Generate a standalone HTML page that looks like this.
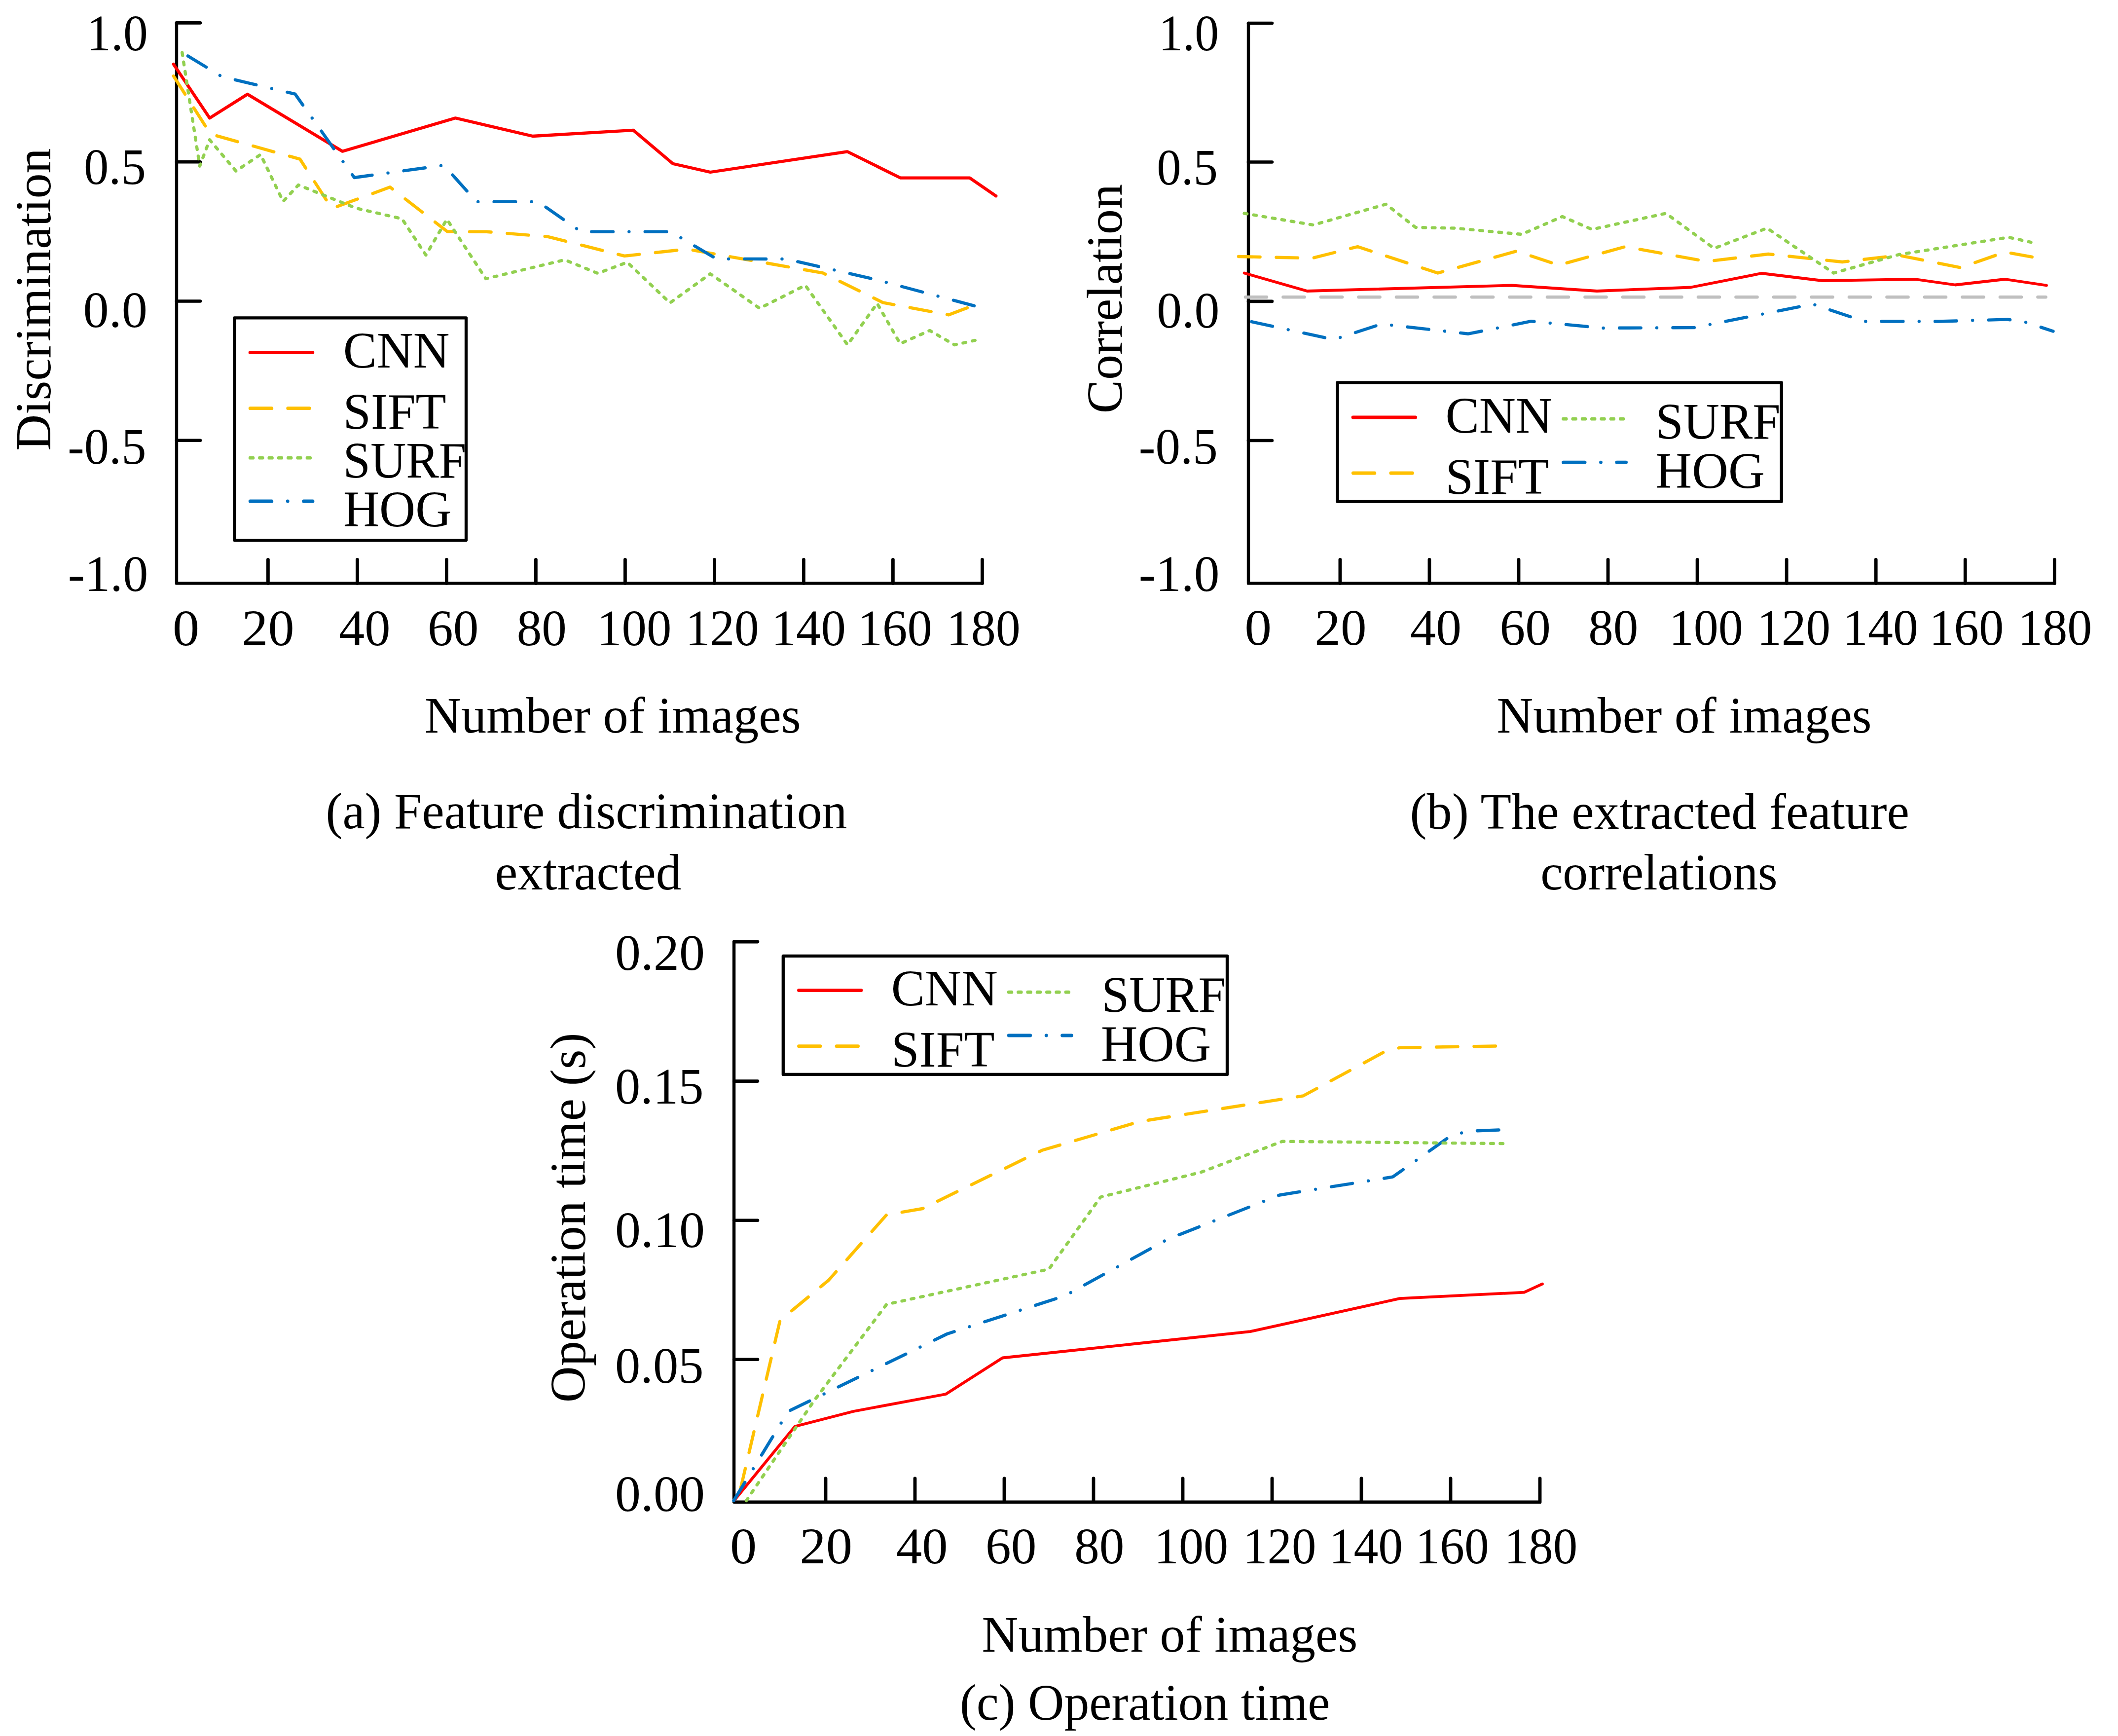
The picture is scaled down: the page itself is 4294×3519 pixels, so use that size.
<!DOCTYPE html>
<html><head><meta charset="utf-8"><title>Feature comparison</title>
<style>
html,body{margin:0;padding:0;background:#fff;}
svg{display:block;}
text{font-family:"Liberation Serif",serif;fill:#000;}
</style></head><body>
<svg width="4294" height="3519" viewBox="0 0 4294 3519">
<rect width="4294" height="3519" fill="#fff"/>
<polyline points="358,46.4 358,1182.4 1991.4,1182.4" fill="none" stroke="#000" stroke-width="6.4" stroke-linecap="round" stroke-linejoin="round"/>
<line x1="358.00" y1="46.40" x2="405.90" y2="46.40" stroke="#000" stroke-width="6.6" stroke-linecap="round"/>
<line x1="358.00" y1="328.30" x2="405.90" y2="328.30" stroke="#000" stroke-width="6.6" stroke-linecap="round"/>
<line x1="358.00" y1="610.50" x2="405.90" y2="610.50" stroke="#000" stroke-width="6.6" stroke-linecap="round"/>
<line x1="358.00" y1="892.80" x2="405.90" y2="892.80" stroke="#000" stroke-width="6.6" stroke-linecap="round"/>
<line x1="543.40" y1="1182.40" x2="543.40" y2="1134.50" stroke="#000" stroke-width="6.8" stroke-linecap="round"/>
<line x1="724.40" y1="1182.40" x2="724.40" y2="1134.50" stroke="#000" stroke-width="6.8" stroke-linecap="round"/>
<line x1="905.40" y1="1182.40" x2="905.40" y2="1134.50" stroke="#000" stroke-width="6.8" stroke-linecap="round"/>
<line x1="1086.40" y1="1182.40" x2="1086.40" y2="1134.50" stroke="#000" stroke-width="6.8" stroke-linecap="round"/>
<line x1="1267.40" y1="1182.40" x2="1267.40" y2="1134.50" stroke="#000" stroke-width="6.8" stroke-linecap="round"/>
<line x1="1448.40" y1="1182.40" x2="1448.40" y2="1134.50" stroke="#000" stroke-width="6.8" stroke-linecap="round"/>
<line x1="1629.40" y1="1182.40" x2="1629.40" y2="1134.50" stroke="#000" stroke-width="6.8" stroke-linecap="round"/>
<line x1="1810.40" y1="1182.40" x2="1810.40" y2="1134.50" stroke="#000" stroke-width="6.8" stroke-linecap="round"/>
<line x1="1991.40" y1="1182.40" x2="1991.40" y2="1134.50" stroke="#000" stroke-width="6.8" stroke-linecap="round"/>
<polyline points="351.7,130.0 425.0,239.3 501.7,191.0 694.3,306.7 923.3,239.3 1080.0,276.0 1284.0,264.0 1364.0,331.7 1440.0,349.0 1717.7,307.3 1825.7,360.7 1966.0,360.7 2019.3,397.3" fill="none" stroke="#FF0000" stroke-width="6.3" stroke-linecap="round" stroke-linejoin="round"/>
<polyline points="351.7,154.0 426.7,271.7 608.3,322.7 672.7,422.7 790.7,379.3 906.7,469.3 986.7,469.8 1110.0,479.6 1266.0,518.9 1393.0,505.0 1668.3,553.3 1790.0,613.3 1923.3,638.3 1966.7,621.7" fill="none" stroke="#FFC000" stroke-width="6.4" stroke-linecap="round" stroke-linejoin="round" stroke-dasharray="43.6 32.9"/>
<polyline points="369.3,106.7 405.0,336.7 425.0,283.3 478.3,346.7 528.3,313.3 574.0,408.3 605.0,375.0 722.0,422.0 815.0,443.5 863.4,517.0 906.0,444.5 985.0,565.0 1145.0,526.7 1211.7,554.0 1271.7,531.7 1358.3,614.0 1440.0,555.0 1540.0,625.0 1632.7,578.3 1718.3,699.0 1778.3,615.0 1825.0,696.7 1885.0,670.0 1935.0,699.0 1980.0,689.3" fill="none" stroke="#92D050" stroke-width="6.4" stroke-linecap="round" stroke-linejoin="round" stroke-dasharray="5.7 13.6"/>
<polyline points="381.0,113.4 450.0,155.5 598.3,190.7 718.3,360.0 900.0,335.0 966.0,408.9 1091.0,408.9 1177.9,469.6 1359.3,469.6 1452.6,524.8 1593.3,525.0 1771.7,565.7 1981.7,621.7" fill="none" stroke="#0070C0" stroke-width="6.4" stroke-linecap="round" stroke-linejoin="round" stroke-dasharray="43.6 32.4 0.01 32.4"/>
<rect x="475.4" y="644.4" width="469.6" height="450.7" fill="#fff" stroke="#000" stroke-width="6.3" stroke-linejoin="round"/>
<line x1="507.10" y1="714.70" x2="633.80" y2="714.70" stroke="#FF0000" stroke-width="6.8" stroke-linecap="round"/>
<polyline points="507.2,827.7 634.0,827.7" fill="none" stroke="#FFC000" stroke-width="6.8" stroke-linecap="round" stroke-linejoin="round" stroke-dasharray="43.6 32.9"/>
<polyline points="507.2,928.2 634.0,928.2" fill="none" stroke="#92D050" stroke-width="6.8" stroke-linecap="round" stroke-linejoin="round" stroke-dasharray="5.7 13.6"/>
<polyline points="507.2,1016.0 634.0,1016.0" fill="none" stroke="#0070C0" stroke-width="6.8" stroke-linecap="round" stroke-linejoin="round" stroke-dasharray="43.6 32.4 0.01 32.4"/>
<text transform="translate(695.81,745.20) scale(0.9775,1)" font-size="104.5">CNN</text>
<text transform="translate(695.48,869.30) scale(0.9734,1)" font-size="104.5">SIFT</text>
<text transform="translate(695.61,968.40) scale(0.9553,1)" font-size="104.5">SURF</text>
<text transform="translate(695.96,1066.80) scale(0.9697,1)" font-size="104.5">HOG</text>
<text transform="translate(175.23,102.00) scale(0.9535,1)" font-size="104.5">1.0</text>
<text transform="translate(169.92,372.50) scale(0.9647,1)" font-size="104.5">0.5</text>
<text transform="translate(168.53,663.00) scale(0.9985,1)" font-size="104.5">0.0</text>
<text transform="translate(137.28,939.50) scale(0.9620,1)" font-size="104.5">-0.5</text>
<text transform="translate(137.70,1197.50) scale(0.9836,1)" font-size="104.5">-1.0</text>
<text transform="translate(349.88,1307.50) scale(1.0382,1)" font-size="104.5">0</text>
<text transform="translate(490.33,1307.50) scale(1.0164,1)" font-size="104.5">20</text>
<text transform="translate(686.91,1307.50) scale(1.0006,1)" font-size="104.5">40</text>
<text transform="translate(867.05,1307.50) scale(0.9892,1)" font-size="104.5">60</text>
<text transform="translate(1047.65,1307.50) scale(0.9683,1)" font-size="104.5">80</text>
<text transform="translate(1210.13,1307.50) scale(0.9646,1)" font-size="104.5">100</text>
<text transform="translate(1389.76,1307.50) scale(0.9507,1)" font-size="104.5">120</text>
<text transform="translate(1563.63,1307.50) scale(0.9646,1)" font-size="104.5">140</text>
<text transform="translate(1738.63,1307.50) scale(0.9646,1)" font-size="104.5">160</text>
<text transform="translate(1918.69,1307.50) scale(0.9576,1)" font-size="104.5">180</text>
<text transform="translate(861.03,1485.00) scale(0.9807,1)" font-size="104.5">Number of images</text>
<text transform="translate(660.52,1679.00) scale(0.9740,1)" font-size="104.5">(a) Feature discrimination</text>
<text transform="translate(1003.48,1802.50) scale(0.9866,1)" font-size="104.5">extracted</text>
<text transform="translate(101.70,913.77) rotate(-90) scale(1.0028,1)" font-size="102">Discrimination</text>
<polyline points="2531,47 2531,1182.4 4165.3,1182.4" fill="none" stroke="#000" stroke-width="6.4" stroke-linecap="round" stroke-linejoin="round"/>
<line x1="2531.00" y1="47.00" x2="2578.90" y2="47.00" stroke="#000" stroke-width="6.6" stroke-linecap="round"/>
<line x1="2531.00" y1="328.50" x2="2578.90" y2="328.50" stroke="#000" stroke-width="6.6" stroke-linecap="round"/>
<line x1="2531.00" y1="610.90" x2="2578.90" y2="610.90" stroke="#000" stroke-width="6.6" stroke-linecap="round"/>
<line x1="2531.00" y1="893.00" x2="2578.90" y2="893.00" stroke="#000" stroke-width="6.6" stroke-linecap="round"/>
<line x1="2716.90" y1="1182.40" x2="2716.90" y2="1134.50" stroke="#000" stroke-width="6.8" stroke-linecap="round"/>
<line x1="2897.95" y1="1182.40" x2="2897.95" y2="1134.50" stroke="#000" stroke-width="6.8" stroke-linecap="round"/>
<line x1="3079.00" y1="1182.40" x2="3079.00" y2="1134.50" stroke="#000" stroke-width="6.8" stroke-linecap="round"/>
<line x1="3260.05" y1="1182.40" x2="3260.05" y2="1134.50" stroke="#000" stroke-width="6.8" stroke-linecap="round"/>
<line x1="3441.10" y1="1182.40" x2="3441.10" y2="1134.50" stroke="#000" stroke-width="6.8" stroke-linecap="round"/>
<line x1="3622.15" y1="1182.40" x2="3622.15" y2="1134.50" stroke="#000" stroke-width="6.8" stroke-linecap="round"/>
<line x1="3803.20" y1="1182.40" x2="3803.20" y2="1134.50" stroke="#000" stroke-width="6.8" stroke-linecap="round"/>
<line x1="3984.25" y1="1182.40" x2="3984.25" y2="1134.50" stroke="#000" stroke-width="6.8" stroke-linecap="round"/>
<line x1="4165.30" y1="1182.40" x2="4165.30" y2="1134.50" stroke="#000" stroke-width="6.8" stroke-linecap="round"/>
<line x1="2525.00" y1="602.30" x2="4147.50" y2="602.30" stroke="#BFBFBF" stroke-width="6.6" stroke-linecap="round" stroke-dasharray="43 33.5"/>
<polyline points="2522.5,553.5 2650.0,590.0 3065.0,578.5 3237.5,590.0 3427.5,582.5 3571.5,554.0 3695.0,569.0 3882.5,566.0 3964.0,577.5 4065.0,566.0 4149.0,578.5" fill="none" stroke="#FF0000" stroke-width="5.8" stroke-linecap="round" stroke-linejoin="round"/>
<polyline points="2511.0,520.0 2660.5,523.3 2752.5,500.0 2915.0,553.5 3075.0,509.0 3160.0,537.5 3295.0,500.0 3460.0,530.0 3585.0,515.0 3735.0,531.0 3850.0,517.5 3975.0,542.5 4065.0,511.0 4120.0,521.0" fill="none" stroke="#FFC000" stroke-width="6.4" stroke-linecap="round" stroke-linejoin="round" stroke-dasharray="43.6 32.9"/>
<polyline points="2522.5,432.5 2662.5,456.0 2810.0,414.0 2870.0,461.0 2950.0,462.5 3085.0,475.0 3167.5,439.0 3227.5,465.0 3377.5,432.5 3475.0,503.5 3582.5,462.5 3717.5,553.5 3850.0,516.0 4072.5,481.0 4117.5,491.0" fill="none" stroke="#92D050" stroke-width="6.4" stroke-linecap="round" stroke-linejoin="round" stroke-dasharray="5.7 13.6"/>
<polyline points="2537.4,652.1 2704.0,688.4 2800.7,656.8 2976.8,676.7 3104.2,651.2 3250.0,665.0 3435.0,664.0 3675.0,616.5 3780.0,651.5 3930.0,651.5 4070.0,647.5 4105.0,652.5 4162.5,671.5" fill="none" stroke="#0070C0" stroke-width="6.4" stroke-linecap="round" stroke-linejoin="round" stroke-dasharray="43.6 32.4 0.01 32.4"/>
<rect x="2711.5" y="775.6" width="900.2" height="240.9" fill="#fff" stroke="#000" stroke-width="6.3" stroke-linejoin="round"/>
<line x1="2743.00" y1="846.00" x2="2869.60" y2="846.00" stroke="#FF0000" stroke-width="6.8" stroke-linecap="round"/>
<polyline points="2743.3,959.0 2870.0,959.0" fill="none" stroke="#FFC000" stroke-width="6.8" stroke-linecap="round" stroke-linejoin="round" stroke-dasharray="43.6 32.9"/>
<polyline points="3169.5,849.2 3296.3,849.2" fill="none" stroke="#92D050" stroke-width="6.8" stroke-linecap="round" stroke-linejoin="round" stroke-dasharray="5.7 13.6"/>
<polyline points="3169.5,937.2 3296.6,937.2" fill="none" stroke="#0070C0" stroke-width="6.8" stroke-linecap="round" stroke-linejoin="round" stroke-dasharray="43.6 32.4 0.01 32.4"/>
<text transform="translate(2930.39,876.50) scale(0.9826,1)" font-size="104.5">CNN</text>
<text transform="translate(2930.57,1001.40) scale(0.9759,1)" font-size="104.5">SIFT</text>
<text transform="translate(3356.42,889.30) scale(0.9689,1)" font-size="104.5">SURF</text>
<text transform="translate(3356.34,989.30) scale(0.9783,1)" font-size="104.5">HOG</text>
<text transform="translate(2348.89,101.50) scale(0.9365,1)" font-size="104.5">1.0</text>
<text transform="translate(2345.24,374.00) scale(0.9463,1)" font-size="104.5">0.5</text>
<text transform="translate(2345.13,663.50) scale(0.9741,1)" font-size="104.5">0.0</text>
<text transform="translate(2308.76,940.00) scale(0.9684,1)" font-size="104.5">-0.5</text>
<text transform="translate(2308.67,1197.50) scale(0.9899,1)" font-size="104.5">-1.0</text>
<text transform="translate(2523.33,1306.50) scale(1.0495,1)" font-size="104.5">0</text>
<text transform="translate(2665.37,1306.50) scale(1.0059,1)" font-size="104.5">20</text>
<text transform="translate(2858.92,1306.50) scale(0.9955,1)" font-size="104.5">40</text>
<text transform="translate(3040.55,1306.50) scale(0.9892,1)" font-size="104.5">60</text>
<text transform="translate(3220.15,1306.50) scale(0.9683,1)" font-size="104.5">80</text>
<text transform="translate(3383.69,1306.50) scale(0.9576,1)" font-size="104.5">100</text>
<text transform="translate(3562.26,1306.50) scale(0.9507,1)" font-size="104.5">120</text>
<text transform="translate(3736.03,1306.50) scale(0.9750,1)" font-size="104.5">140</text>
<text transform="translate(3911.13,1306.50) scale(0.9646,1)" font-size="104.5">160</text>
<text transform="translate(4091.19,1306.50) scale(0.9576,1)" font-size="104.5">180</text>
<text transform="translate(3034.54,1485.00) scale(0.9774,1)" font-size="104.5">Number of images</text>
<text transform="translate(2858.50,1680.00) scale(0.9796,1)" font-size="104.5">(b) The extracted feature</text>
<text transform="translate(3123.13,1802.50) scale(0.9742,1)" font-size="104.5">correlations</text>
<text transform="translate(2274.00,838.19) rotate(-90) scale(1.0015,1)" font-size="102">Correlation</text>
<polyline points="1488.1,1909.1 1488.1,3044.7 3122,3044.7" fill="none" stroke="#000" stroke-width="6.4" stroke-linecap="round" stroke-linejoin="round"/>
<line x1="1488.10" y1="1909.10" x2="1536.00" y2="1909.10" stroke="#000" stroke-width="6.6" stroke-linecap="round"/>
<line x1="1488.10" y1="2191.60" x2="1536.00" y2="2191.60" stroke="#000" stroke-width="6.6" stroke-linecap="round"/>
<line x1="1488.10" y1="2473.70" x2="1536.00" y2="2473.70" stroke="#000" stroke-width="6.6" stroke-linecap="round"/>
<line x1="1488.10" y1="2755.80" x2="1536.00" y2="2755.80" stroke="#000" stroke-width="6.6" stroke-linecap="round"/>
<line x1="1674.00" y1="3044.70" x2="1674.00" y2="2996.80" stroke="#000" stroke-width="6.8" stroke-linecap="round"/>
<line x1="1855.00" y1="3044.70" x2="1855.00" y2="2996.80" stroke="#000" stroke-width="6.8" stroke-linecap="round"/>
<line x1="2036.00" y1="3044.70" x2="2036.00" y2="2996.80" stroke="#000" stroke-width="6.8" stroke-linecap="round"/>
<line x1="2217.00" y1="3044.70" x2="2217.00" y2="2996.80" stroke="#000" stroke-width="6.8" stroke-linecap="round"/>
<line x1="2398.00" y1="3044.70" x2="2398.00" y2="2996.80" stroke="#000" stroke-width="6.8" stroke-linecap="round"/>
<line x1="2579.00" y1="3044.70" x2="2579.00" y2="2996.80" stroke="#000" stroke-width="6.8" stroke-linecap="round"/>
<line x1="2760.00" y1="3044.70" x2="2760.00" y2="2996.80" stroke="#000" stroke-width="6.8" stroke-linecap="round"/>
<line x1="2941.00" y1="3044.70" x2="2941.00" y2="2996.80" stroke="#000" stroke-width="6.8" stroke-linecap="round"/>
<line x1="3122.00" y1="3044.70" x2="3122.00" y2="2996.80" stroke="#000" stroke-width="6.8" stroke-linecap="round"/>
<polyline points="1488.2,3042.0 1611.5,2891.5 1730.0,2861.0 1917.5,2826.0 2032.5,2752.5 2534.6,2699.1 2837.9,2632.2 3090.1,2619.7 3127.0,2602.7" fill="none" stroke="#FF0000" stroke-width="5.8" stroke-linecap="round" stroke-linejoin="round"/>
<polyline points="1495.7,3042.0 1581.5,2676.5 1680.0,2595.0 1797.5,2462.5 1870.0,2450.0 2112.4,2331.8 2310.7,2273.4 2642.3,2221.3 2809.5,2130.6 2837.9,2123.8 3036.3,2120.4" fill="none" stroke="#FFC000" stroke-width="6.4" stroke-linecap="round" stroke-linejoin="round" stroke-dasharray="43.6 32.9" stroke-dashoffset="53"/>
<polyline points="1487.5,3042.0 1598.0,2861.0 1920.0,2704.0 2159.0,2626.6 2367.4,2512.0 2594.2,2422.5 2823.7,2385.7 2939.9,2303.5 2975.0,2293.0 3041.9,2290.4" fill="none" stroke="#0070C0" stroke-width="6.4" stroke-linecap="round" stroke-linejoin="round" stroke-dasharray="43.6 32.4 0.01 32.4"/>
<polyline points="1513.0,3042.0 1650.0,2840.0 1797.5,2644.0 2126.5,2572.7 2231.4,2426.5 2435.4,2376.0 2599.8,2313.7 3056.1,2318.2" fill="none" stroke="#92D050" stroke-width="6.4" stroke-linecap="round" stroke-linejoin="round" stroke-dasharray="5.7 13.6"/>
<rect x="1587.8" y="1937.8" width="900.2" height="240.1" fill="#fff" stroke="#000" stroke-width="6.3" stroke-linejoin="round"/>
<line x1="1619.50" y1="2007.50" x2="1745.80" y2="2007.50" stroke="#FF0000" stroke-width="6.8" stroke-linecap="round"/>
<polyline points="1619.5,2120.7 1746.3,2120.7" fill="none" stroke="#FFC000" stroke-width="6.8" stroke-linecap="round" stroke-linejoin="round" stroke-dasharray="43.6 32.9"/>
<polyline points="2045.2,2011.2 2172.0,2011.2" fill="none" stroke="#92D050" stroke-width="6.8" stroke-linecap="round" stroke-linejoin="round" stroke-dasharray="5.7 13.6"/>
<polyline points="2045.2,2099.0 2172.4,2099.0" fill="none" stroke="#0070C0" stroke-width="6.8" stroke-linecap="round" stroke-linejoin="round" stroke-dasharray="43.6 32.4 0.01 32.4"/>
<text transform="translate(1806.80,2038.00) scale(0.9798,1)" font-size="104.5">CNN</text>
<text transform="translate(1806.97,2162.00) scale(0.9759,1)" font-size="104.5">SIFT</text>
<text transform="translate(2233.24,2051.00) scale(0.9657,1)" font-size="104.5">SURF</text>
<text transform="translate(2231.91,2151.40) scale(0.9865,1)" font-size="104.5">HOG</text>
<text transform="translate(1247.05,1966.00) scale(0.9947,1)" font-size="104.5">0.20</text>
<text transform="translate(1247.10,2236.50) scale(0.9810,1)" font-size="104.5">0.15</text>
<text transform="translate(1247.05,2527.50) scale(0.9947,1)" font-size="104.5">0.10</text>
<text transform="translate(1247.10,2802.50) scale(0.9810,1)" font-size="104.5">0.05</text>
<text transform="translate(1247.05,3062.50) scale(0.9947,1)" font-size="104.5">0.00</text>
<text transform="translate(1479.88,3169.30) scale(1.0382,1)" font-size="104.5">0</text>
<text transform="translate(1621.30,3169.30) scale(1.0216,1)" font-size="104.5">20</text>
<text transform="translate(1816.91,3169.30) scale(1.0006,1)" font-size="104.5">40</text>
<text transform="translate(1998.05,3169.30) scale(0.9892,1)" font-size="104.5">60</text>
<text transform="translate(2178.15,3169.30) scale(0.9683,1)" font-size="104.5">80</text>
<text transform="translate(2339.78,3169.30) scale(0.9590,1)" font-size="104.5">100</text>
<text transform="translate(2520.10,3169.30) scale(0.9465,1)" font-size="104.5">120</text>
<text transform="translate(2694.52,3169.30) scale(0.9548,1)" font-size="104.5">140</text>
<text transform="translate(2869.55,3169.30) scale(0.9514,1)" font-size="104.5">160</text>
<text transform="translate(3049.79,3169.30) scale(0.9472,1)" font-size="104.5">180</text>
<text transform="translate(1990.53,3347.50) scale(0.9795,1)" font-size="104.5">Number of images</text>
<text transform="translate(1945.93,3485.60) scale(0.9725,1)" font-size="104.5">(c) Operation time</text>
<text transform="translate(1185.50,2843.19) rotate(-90) scale(1.0029,1)" font-size="102">Operation time (s)</text>
</svg></body></html>
